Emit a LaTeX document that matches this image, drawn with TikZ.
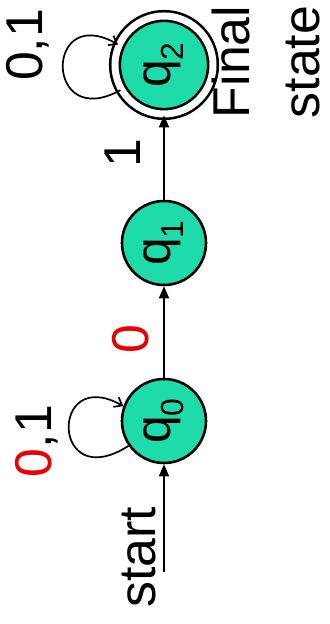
\documentclass[tikz,border=0pt]{standalone}
\usepackage{fontspec}
\setmainfont{Liberation Sans}
\usepackage{xcolor}
\usetikzlibrary{arrows.meta,positioning}
\definecolor{statefill}{RGB}{30,220,170}
\definecolor{labelred}{RGB}{230,0,0}
\newcommand{\qsub}[1]{\raisebox{-13bp}{\fontsize{32}{32}\selectfont #1}}

\begin{document}
\begin{tikzpicture}[
    x=1bp, y=1bp,
    state/.style={circle, draw, line width=2.6bp, fill=statefill, minimum size=84bp, inner sep=0pt, font=\fontsize{50}{56}\selectfont},
    final/.style={state, double, double distance=7bp, minimum size=98bp},
    trans/.style={-{Triangle[length=12bp,width=10bp]}, line width=1.7bp},
    loopy/.style={-{Straight Barb[length=7bp,width=11bp]}, line width=1.7bp},
    lbl/.style={rotate=90, inner sep=0pt, font=\fontsize{52}{70}\selectfont}
]
\useasboundingbox (0,0) rectangle (329,624);

% States
\node[state] (q0) at (164,203) {\rotatebox{90}{q\qsub{0}}};
\node[state] (q1) at (164,381) {\rotatebox{90}{q\qsub{1}}};
\node[final] (q2) at (164,559) {\rotatebox{90}{q\qsub{2}}};

% Start arrow
\coordinate (init) at (164,52);
\node[lbl] (startlbl) at (139,67) {start};
\draw[trans] (init) -- (q0);

% Transitions
\draw[trans] (q0) -- node[xshift=-33bp, yshift=-7bp, lbl, text=labelred] {0} (q1);
\draw[trans] (q1) -- node[xshift=-41bp, yshift=4bp, lbl] {1} (q2);

% Self loops
\draw[loopy] (q0.215) .. controls +(-78,-50) and +(-74,42) .. (q0.160);
\node[lbl] (loop0) at (37,183) {\textcolor{labelred}{0},1};
\draw[loopy] (q2.210) .. controls +(-76,-42) and +(-74,42) .. (q2.156);
\node[lbl] (loop2) at (28,579) {0,1};

% Final state note
\node[lbl, align=left] (finallbl) at (266,562) {Final\\state};

\end{tikzpicture}
\end{document}
